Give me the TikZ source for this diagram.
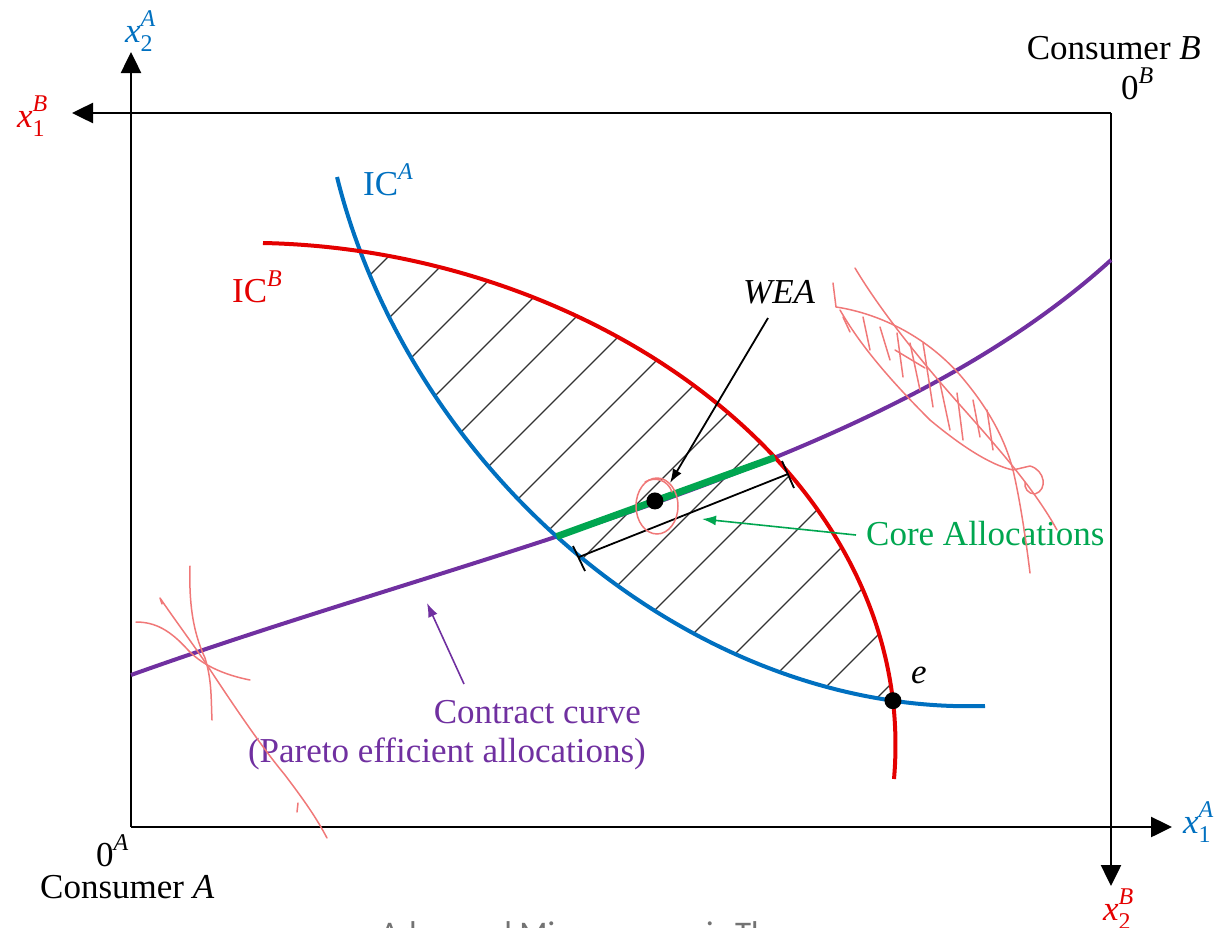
\documentclass[tikz,border=0pt]{standalone}
\usepackage{fontspec}
\setmainfont{Liberation Serif}
\newfontfamily\wmfont{Carlito}
\usetikzlibrary{arrows.meta,intersections,calc}
\definecolor{icblue}{RGB}{0,112,192}
\definecolor{icred}{RGB}{228,0,0}
\definecolor{ccpurple}{RGB}{112,48,160}
\definecolor{coregreen}{RGB}{0,166,80}
\definecolor{scribred}{RGB}{240,120,120}
\newcommand{\SupSub}[2]{\rlap{\raisebox{0.45em}{\fontsize{24}{24}\selectfont #1}}\raisebox{-0.28em}{\fontsize{24}{24}\selectfont #2}}
\newcommand{\Sup}[1]{\raisebox{0.45em}{\fontsize{24}{24}\selectfont #1}}
\tikzset{
  lab/.style={inner sep=0pt, font=\fontsize{35}{40}\selectfont},
  axis/.style={line width=2.5pt, -{Triangle[length=21pt,width=20pt]}},
  curve/.style={line width=4pt},
  hatch/.style={line width=1.1pt, black!80},
  pointer/.style={line width=1.8pt, -{Latex[length=14pt,width=10pt]}},
  scrib/.style={draw=scribred, line width=1.5pt, line cap=round, line join=round},
  dot/.style={circle, fill=black, inner sep=0pt, minimum size=17pt}
}
\begin{document}
\begin{tikzpicture}[x=1pt,y=-1pt]
\useasboundingbox (0,0) rectangle (1229,927);

% corners and axis ends
\coordinate (OA) at (131,827);
\coordinate (OB) at (1111,113);
\coordinate (yA) at (131,52);
\coordinate (xB) at (72,113);
\coordinate (xA) at (1172,827);
\coordinate (yB) at (1111,886);

% box and axes
\draw[axis] (OA) -- (yA);
\draw[axis] (OB) -- (xB);
\draw[axis] (OA) -- (xA);
\draw[axis] (OB) -- (yB);

% axis labels
\node[lab, anchor=base west, text=icblue] (lx2A) at (125,42) {\textit{x}\SupSub{\textit{A}}{2}};
\node[lab, anchor=base west, text=icred] (lx1B) at (17,127) {\textit{x}\SupSub{\textit{B}}{1}};
\node[lab, anchor=base west, text=icblue] (lx1A) at (1183,833) {\textit{x}\SupSub{\textit{A}}{1}};
\node[lab, anchor=base west, text=icred] (lx2B) at (1103,920) {\textit{x}\SupSub{\textit{B}}{2}};

\node[lab, anchor=base east] (consB) at (1201,59) {Consumer \textit{B}};
\node[lab, anchor=base west] (zeroB) at (1121,99) {0\Sup{\textit{B}}};
\node[lab, anchor=base west] (zeroA) at (96,866) {0\Sup{\textit{A}}};
\node[lab, anchor=base west] (consA) at (40,898) {Consumer \textit{A}};

% curve paths (invisible, for intersections)
\path[name path=ica] (337,177) .. controls (410,470) and (690,715) .. (985,706);
\path[name path=icb] (263,243) .. controls (600,250) and (920,480) .. (894,779);
\path[name path=cc] (131,675) .. controls (480,550) and (880,470) .. (1111,260);
\path[name intersections={of=ica and cc, by={c1}}];
\path[name intersections={of=icb and cc, by={c2}}];
\path[name intersections={of=ica and icb, by={top,eq}}];

% hatching of the lens
\begin{scope}
\clip (337,177) .. controls (410,470) and (690,715) .. (985,706) -- (1005,706) -- (1005,100) -- (337,100) -- cycle;
\clip (263,243) .. controls (600,250) and (920,480) .. (894,779) -- (894,810) -- (240,810) -- (240,243) -- cycle;
\foreach \c in {645,707,...,1600} {
  \draw[hatch] ({\c-100},100) -- ({\c-810},810);
}
\end{scope}

% contract curve
\draw[curve, ccpurple] (131,675) .. controls (480,550) and (880,470) .. (1111,260);

% indifference curves
\draw[curve, icblue] (337,177) .. controls (410,470) and (690,715) .. (985,706);
\draw[curve, icred] (263,243) .. controls (600,250) and (920,480) .. (894,779);

% core segment
\draw[line width=7pt, coregreen] (c1) -- (c2);

% bracket
\coordinate (b1) at (579,557);
\coordinate (b2) at (788,474);
\coordinate (b1a) at (573,546);
\coordinate (b1b) at (585,571);
\coordinate (b2a) at (782,461);
\coordinate (b2b) at (794,488);
\draw[line width=1.8pt] (b1) -- (b2);
\draw[line width=1.8pt] (b1a) -- (b1b);
\draw[line width=1.8pt] (b2a) -- (b2b);

% points
\node[dot] (wea) at ($(c1)!0.45!(c2)$) {};
\node[dot] (e) at (eq) {};

% labels
\node[lab, anchor=base west, text=icblue] (lICA) at (363,195) {IC\Sup{\textit{A}}};
\node[lab, anchor=base west, text=icred] (lICB) at (232,302) {IC\Sup{\textit{B}}};
\node[lab, anchor=base west] (lWEA) at (743,303) {\textit{WEA}};
\node[lab, anchor=base west] (le) at (911,683) {\textit{e}};
\node[lab, anchor=base west, text=coregreen] (lcore) at (866,545) {Core Allocations};
\node[lab, anchor=base east, text=ccpurple] (lcc1) at (641,723) {Contract curve};
\node[lab, anchor=base east, text=ccpurple] (lcc2) at (646,762) {(Pareto efficient allocations)};

% pointers
\coordinate (pWEAs) at (768,318);
\coordinate (pWEAe) at (670,483);
\draw[pointer] (pWEAs) -- (pWEAe);
\coordinate (pCs) at (856,535);
\coordinate (pCe) at (702,519);
\draw[pointer, coregreen, line width=1.6pt] (pCs) -- (pCe);
\coordinate (pPs) at (464,684);
\coordinate (pPe) at (427,603);
\draw[pointer, ccpurple, line width=1.6pt] (pPs) -- (pPe);

% hand-drawn annotations
\draw[scrib] (657,506) ellipse [x radius=21, y radius=28];
\draw[scrib] (645,482) .. controls (655,476) and (668,480) .. (672,492);

% left scribble
\draw[scrib] (190,566) .. controls (189,600) and (192,630) .. (205,658) .. controls (212,680) and (211,700) .. (212,720);
\draw[scrib] (162,604) -- (160,598) .. controls (175,620) and (190,640) .. (205,662) .. controls (230,700) and (260,745) .. (285,775) .. controls (300,795) and (315,815) .. (327,838);
\draw[scrib] (136,622) .. controls (155,622) and (170,630) .. (188,650) .. controls (205,668) and (230,676) .. (250,680);
\draw[scrib] (298,803) -- (297,812);

% right scribble
\draw[scrib] (833,283) -- (836,307) .. controls (870,312) and (920,330) .. (960,375) .. controls (990,410) and (1005,440) .. (1013,470);
\draw[scrib] (840,310) .. controls (860,345) and (890,380) .. (930,420) .. controls (960,445) and (990,465) .. (1013,470);
\draw[scrib] (855,268) .. controls (880,310) and (920,360) .. (960,405) .. controls (1000,450) and (1035,490) .. (1057,530);
\draw[scrib] (1013,470) .. controls (1020,500) and (1026,540) .. (1030,573);
\draw[scrib] (1013,470) -- (1030,466) .. controls (1045,470) and (1048,490) .. (1035,494) .. controls (1028,494) and (1024,488) .. (1025,482);
\draw[scrib] (843,317) -- (850,332);
\draw[scrib] (863,317) -- (870,350);
\draw[scrib] (880,327) -- (890,360);
\draw[scrib] (897,333) -- (903,377);
\draw[scrib] (910,343) -- (920,390);
\draw[scrib] (923,343) -- (933,407);
\draw[scrib] (940,383) -- (950,430);
\draw[scrib] (957,393) -- (963,440);
\draw[scrib] (973,400) -- (980,437);
\draw[scrib] (987,410) -- (993,450);
\draw[scrib] (895,350) -- (925,368);

% cut-off footer
\node[inner sep=0pt, anchor=base west, text=black!55, font=\wmfont\fontsize{33}{36}\selectfont] (footer) at (380,944) {Advanced Microeconomic Theory};
\end{tikzpicture}
\end{document}
